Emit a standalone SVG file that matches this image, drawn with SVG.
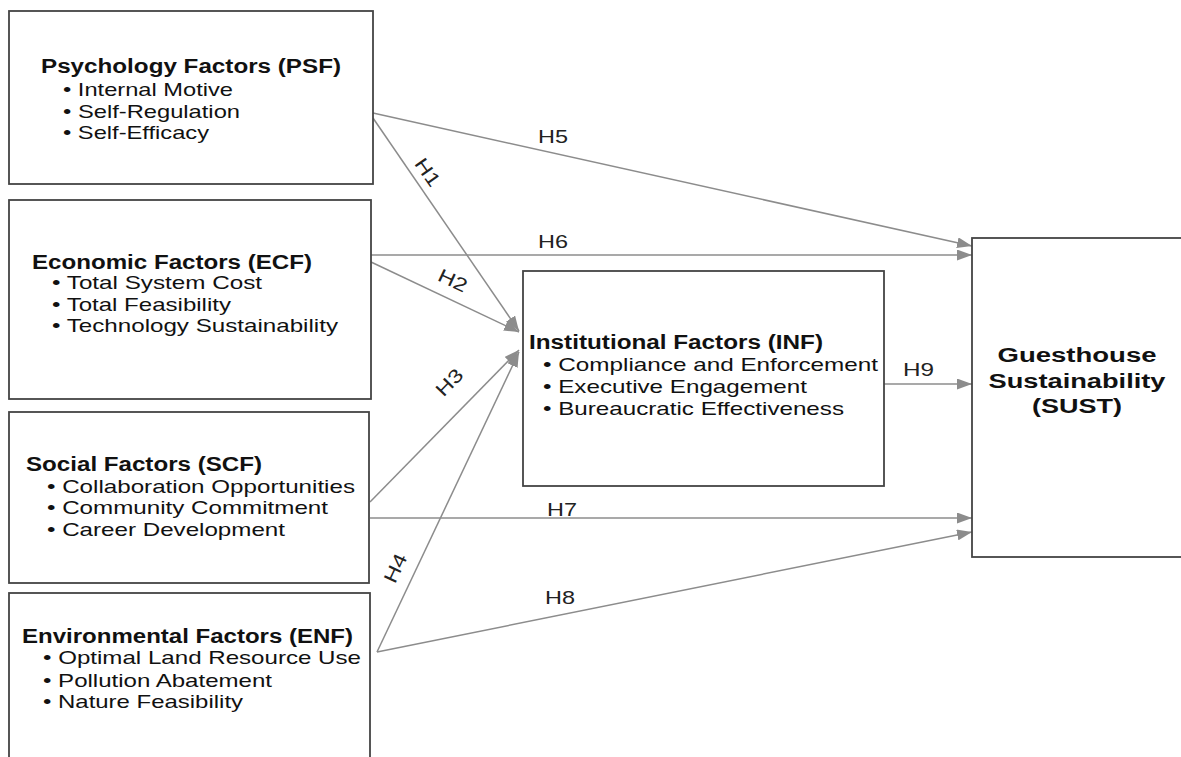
<svg xmlns="http://www.w3.org/2000/svg" width="1181" height="757" viewBox="0 0 1181 757">
<style>
.box{fill:#fff;stroke:#444;stroke-width:1.8}
.ttl{font-family:"Liberation Sans",Arial,sans-serif;font-weight:bold;font-size:19.5px;fill:#111}
.itm{font-family:"Liberation Sans",Arial,sans-serif;font-size:18.5px;fill:#111}
.lbl{font-family:"Liberation Sans",Arial,sans-serif;font-size:19px;fill:#222}
.con{stroke:#8c8c8c;stroke-width:1.5;fill:none;marker-end:url(#ah)}
</style>
<defs>
<marker id="ah" markerUnits="userSpaceOnUse" markerWidth="15" markerHeight="11" viewBox="0 0 15 11" refX="15" refY="5.5" orient="auto">
<path d="M0,0 L15,5.5 L0,11 z" fill="#8c8c8c"/>
</marker>
</defs>
<rect width="1181" height="757" fill="#fff"/>
<g id="connectors">
<line class="con" x1="373" y1="113" x2="972" y2="246"/>
<line class="con" x1="373" y1="118" x2="519" y2="331"/>
<line class="con" x1="371" y1="255" x2="972" y2="255"/>
<line class="con" x1="371" y1="262" x2="519" y2="332"/>
<line class="con" x1="370" y1="502" x2="519" y2="350"/>
<line class="con" x1="370" y1="518" x2="972" y2="518"/>
<line class="con" x1="377" y1="652" x2="519" y2="352"/>
<line class="con" x1="377" y1="652" x2="972" y2="532"/>
<line class="con" x1="884" y1="384" x2="972" y2="384"/>
<text class="lbl" x="538" y="143" textLength="30" lengthAdjust="spacingAndGlyphs">H5</text>
<text class="lbl" x="538" y="248" textLength="30" lengthAdjust="spacingAndGlyphs">H6</text>
<text class="lbl" x="547" y="516" textLength="30" lengthAdjust="spacingAndGlyphs">H7</text>
<text class="lbl" x="545" y="604" textLength="30" lengthAdjust="spacingAndGlyphs">H8</text>
<text class="lbl" x="903" y="376" textLength="31" lengthAdjust="spacingAndGlyphs">H9</text>
<text class="lbl" transform="translate(428,172) rotate(55)" x="0" y="7" text-anchor="middle" textLength="30" lengthAdjust="spacingAndGlyphs">H1</text>
<text class="lbl" transform="translate(453,280) rotate(25)" x="0" y="7" text-anchor="middle" textLength="30" lengthAdjust="spacingAndGlyphs">H2</text>
<text class="lbl" transform="translate(449,382) rotate(-46)" x="0" y="7" text-anchor="middle" textLength="30" lengthAdjust="spacingAndGlyphs">H3</text>
<text class="lbl" transform="translate(395,568) rotate(-65)" x="0" y="7" text-anchor="middle" textLength="30" lengthAdjust="spacingAndGlyphs">H4</text>
</g>
<g id="PSF">
<rect class="box" x="9" y="11" width="364" height="173"/>
<text class="ttl" x="41" y="73" textLength="300" lengthAdjust="spacingAndGlyphs">Psychology Factors (PSF)</text>
<text class="itm" x="63" y="96" textLength="170" lengthAdjust="spacingAndGlyphs">• Internal Motive</text>
<text class="itm" x="63" y="118" textLength="177" lengthAdjust="spacingAndGlyphs">• Self-Regulation</text>
<text class="itm" x="63" y="139" textLength="146" lengthAdjust="spacingAndGlyphs">• Self-Efficacy</text>
</g>
<g id="ECF">
<rect class="box" x="9" y="200" width="362" height="199"/>
<text class="ttl" x="32" y="269" textLength="280" lengthAdjust="spacingAndGlyphs">Economic Factors (ECF)</text>
<text class="itm" x="52" y="289" textLength="210" lengthAdjust="spacingAndGlyphs">• Total System Cost</text>
<text class="itm" x="52" y="311" textLength="179" lengthAdjust="spacingAndGlyphs">• Total Feasibility</text>
<text class="itm" x="52" y="332" textLength="286" lengthAdjust="spacingAndGlyphs">• Technology Sustainability</text>
</g>
<g id="SCF">
<rect class="box" x="9" y="412" width="360" height="171"/>
<text class="ttl" x="26" y="471" textLength="236" lengthAdjust="spacingAndGlyphs">Social Factors (SCF)</text>
<text class="itm" x="47" y="493" textLength="308" lengthAdjust="spacingAndGlyphs">• Collaboration Opportunities</text>
<text class="itm" x="47" y="514" textLength="281" lengthAdjust="spacingAndGlyphs">• Community Commitment</text>
<text class="itm" x="47" y="536" textLength="238" lengthAdjust="spacingAndGlyphs">• Career Development</text>
</g>
<g id="ENF">
<rect class="box" x="9" y="593" width="361" height="180"/>
<text class="ttl" x="22" y="643" textLength="331" lengthAdjust="spacingAndGlyphs">Environmental Factors (ENF)</text>
<text class="itm" x="43" y="664" textLength="318" lengthAdjust="spacingAndGlyphs">• Optimal Land Resource Use</text>
<text class="itm" x="43" y="687" textLength="229" lengthAdjust="spacingAndGlyphs">• Pollution Abatement</text>
<text class="itm" x="43" y="708" textLength="200" lengthAdjust="spacingAndGlyphs">• Nature Feasibility</text>
</g>
<g id="INF">
<rect class="box" x="523" y="271" width="361" height="215"/>
<text class="ttl" x="529" y="349" textLength="294" lengthAdjust="spacingAndGlyphs">Institutional Factors (INF)</text>
<text class="itm" x="543" y="371" textLength="335" lengthAdjust="spacingAndGlyphs">• Compliance and Enforcement</text>
<text class="itm" x="543" y="393" textLength="264" lengthAdjust="spacingAndGlyphs">• Executive Engagement</text>
<text class="itm" x="543" y="415" textLength="301" lengthAdjust="spacingAndGlyphs">• Bureaucratic Effectiveness</text>
</g>
<g id="SUST">
<rect class="box" x="972" y="238" width="220" height="319"/>
<text class="ttl" x="1077" y="362" text-anchor="middle" textLength="159" lengthAdjust="spacingAndGlyphs">Guesthouse</text>
<text class="ttl" x="1077" y="388" text-anchor="middle" textLength="177" lengthAdjust="spacingAndGlyphs">Sustainability</text>
<text class="ttl" x="1077" y="413" text-anchor="middle" textLength="90" lengthAdjust="spacingAndGlyphs">(SUST)</text>
</g>
</svg>
